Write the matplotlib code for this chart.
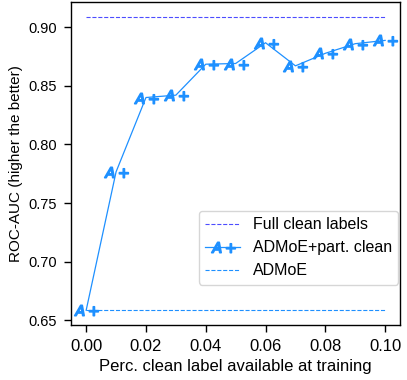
import matplotlib
import matplotlib.pyplot as plt

matplotlib.use("Agg")
plt.rcParams["font.family"] = ["Liberation Sans", "DejaVu Sans"]

# data
perc_clean = [0.00, 0.01, 0.02, 0.03, 0.04, 0.05, 0.06, 0.07, 0.08, 0.09, 0.10]
admoe_part_clean = [0.6586, 0.7766, 0.840, 0.842, 0.8684, 0.869, 0.8867, 0.867, 0.8777, 0.8859, 0.8887]
full_clean = 0.9087
admoe = 0.6586

fig, ax = plt.subplots(figsize=(4.07, 3.8), dpi=100)
ax.hlines(full_clean, perc_clean[0], perc_clean[-1], colors="#4d4dff", linestyles="--",
          linewidth=0.8, label="Full clean labels")
ax.plot(perc_clean, admoe_part_clean, color="dodgerblue", linewidth=0.9,
        marker="$A+$", markersize=17, markeredgewidth=1.2, label="ADMoE+part. clean")
ax.hlines(admoe, perc_clean[0], perc_clean[-1], colors="dodgerblue", linestyles="--",
          linewidth=0.8, label="ADMoE")

ax.set_xticks([0.00, 0.02, 0.04, 0.06, 0.08, 0.10])
ax.set_yticks([0.65, 0.70, 0.75, 0.80, 0.85, 0.90])
ax.tick_params(length=5, width=1, pad=5)
ax.tick_params(axis="x", labelsize=12)
ax.tick_params(axis="y", labelsize=10.5)
for s in ax.spines.values():
    s.set_linewidth(1)
ax.set_xlabel("Perc. clean label available at training", fontsize=12)
ax.set_ylabel("ROC-AUC (higher the better)", fontsize=11)
ax.legend(loc="lower right", bbox_to_anchor=(1.0, 0.12), borderaxespad=0.1,
          fontsize=11.5, handlelength=2.2)

fig.subplots_adjust(left=0.175, right=0.983, top=0.994, bottom=0.145)
fig.savefig("out.png", dpi=100)
plt.close(fig)
